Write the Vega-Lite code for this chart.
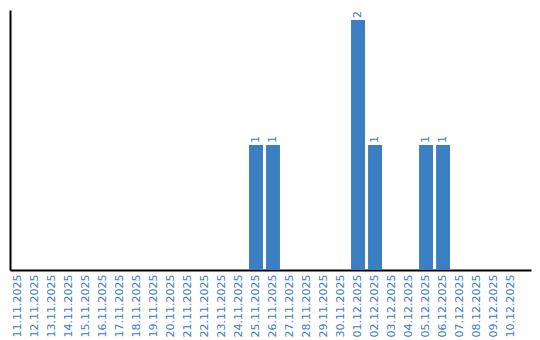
{
  "$schema": "https://vega.github.io/schema/vega-lite/v6.json",
  "autosize": "none",
  "width": 521,
  "height": 260,
  "padding": {"left": 10, "top": 10, "right": 9, "bottom": 70},
  "background": "white",
  "config": {"view": {"stroke": null}, "font": "DejaVu Sans"},
  "data": {"values": [
    {"date": "11.11.2025", "n": 0}, {"date": "12.11.2025", "n": 0}, {"date": "13.11.2025", "n": 0},
    {"date": "14.11.2025", "n": 0}, {"date": "15.11.2025", "n": 0}, {"date": "16.11.2025", "n": 0},
    {"date": "17.11.2025", "n": 0}, {"date": "18.11.2025", "n": 0}, {"date": "19.11.2025", "n": 0},
    {"date": "20.11.2025", "n": 0}, {"date": "21.11.2025", "n": 0}, {"date": "22.11.2025", "n": 0},
    {"date": "23.11.2025", "n": 0}, {"date": "24.11.2025", "n": 0}, {"date": "25.11.2025", "n": 1},
    {"date": "26.11.2025", "n": 1}, {"date": "27.11.2025", "n": 0}, {"date": "28.11.2025", "n": 0},
    {"date": "29.11.2025", "n": 0}, {"date": "30.11.2025", "n": 0}, {"date": "01.12.2025", "n": 2},
    {"date": "02.12.2025", "n": 1}, {"date": "03.12.2025", "n": 0}, {"date": "04.12.2025", "n": 0},
    {"date": "05.12.2025", "n": 1}, {"date": "06.12.2025", "n": 1}, {"date": "07.12.2025", "n": 0},
    {"date": "08.12.2025", "n": 0}, {"date": "09.12.2025", "n": 0}, {"date": "10.12.2025", "n": 0}
  ]},
  "encoding": {
    "x": {
      "field": "date", "type": "ordinal", "sort": null,
      "scale": {"paddingInner": 0.18, "paddingOuter": 0.41, "align": 0.07},
      "axis": {"title": null, "labelAngle": -90, "labelColor": "#3a7bc4", "labelFontSize": 11,
               "labelFont": "DejaVu Sans", "ticks": false, "domainColor": "black", "domainWidth": 2, "labelPadding": 4}
    },
    "y": {
      "field": "n", "type": "quantitative",
      "scale": {"domain": [0, 2.08], "nice": false},
      "axis": {"title": null, "labels": false, "ticks": false, "grid": false, "domainColor": "black", "domainWidth": 2}
    }
  },
  "layer": [
    {"mark": {"type": "bar", "color": "#3b7ec2"}},
    {"transform": [{"filter": "datum.n > 0"}],
     "mark": {"type": "text", "angle": -90, "align": "left", "baseline": "middle", "dx": 2, "fontSize": 11, "color": "#3a7bc4"},
     "encoding": {"text": {"field": "n", "type": "quantitative"}}}
  ]
}
